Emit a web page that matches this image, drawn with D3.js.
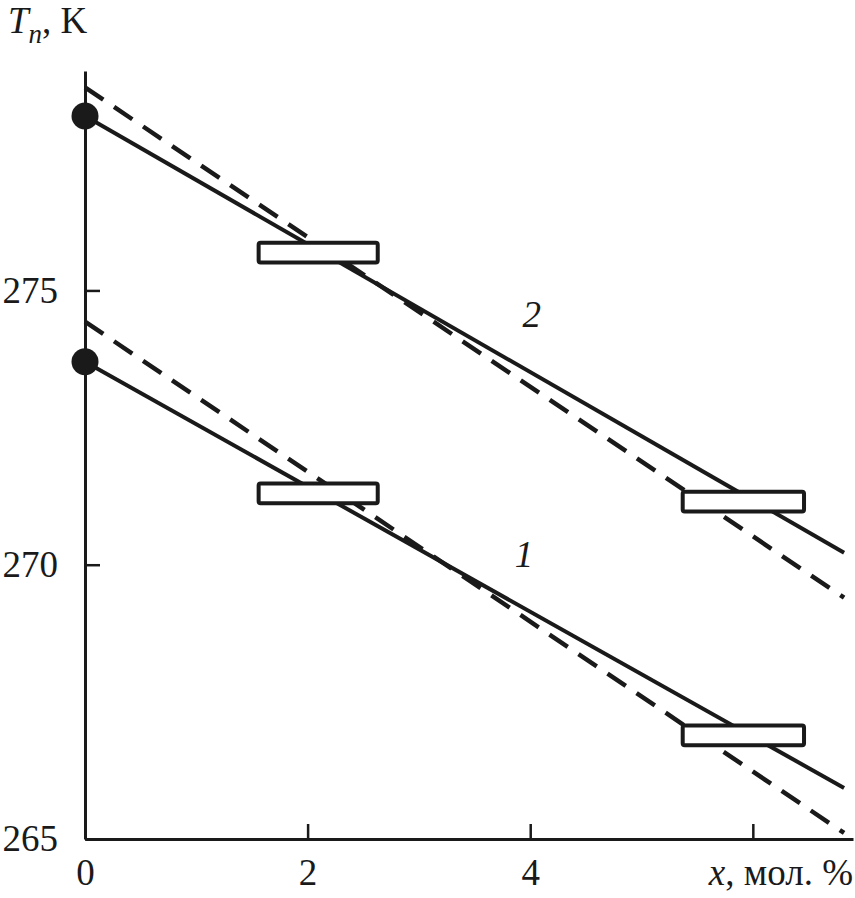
<!DOCTYPE html>
<html>
<head>
<meta charset="utf-8">
<script src="https://cdn.jsdelivr.net/npm/d3@7"></script>
<style>
html,body{margin:0;padding:0;background:#fff;}
svg{display:block;}
svg text{font-family:"Liberation Serif","Times New Roman",serif;}
</style>
</head>
<body>
<svg id="chart" width="855" height="898"></svg>
<script>
// ---- data ----
const xTicks = [0, 2, 4, 6];
const xTickLabels = ["0", "2", "4", ""];
const yTicks = [265, 270, 275];
const yTickLabels = ["265", "270", "275"];
const seriesNames = ["1", "2"];
const lineX = [0, 6.82];
const solid1 = [273.70, 265.93];
const dashed1 = [274.43, 265.11];
const solid2 = [278.18, 270.22];
const dashed2 = [278.70, 269.40];
const dotX = [0, 0];
const dotY = [273.70, 278.18];
const boxX0 = [1.56, 5.37];
const boxX1 = [2.63, 6.46];
const box1Y = [271.30, 266.89];
const box2Y = [275.69, 271.15];
const boxHalf = 0.18;
const labelX = [3.86, 3.93];
const labelY = [269.96, 274.34];

// ---- scales ----
const svg = d3.select("#chart");
const x = d3.scaleLinear().domain([0, 6.9]).range([85, 853]);
const y = d3.scaleLinear().domain([265, 279]).range([839, 71]);
const serif = "Liberation Serif";

// ---- axes ----
const xAxis = d3.axisBottom(x).tickValues(xTicks)
  .tickFormat((d, i) => xTickLabels[i]).tickSize(-15).tickSizeOuter(0).tickPadding(20);
const gx = svg.append("g").attr("transform", `translate(0,${y(265)})`).call(xAxis);
const yAxis = d3.axisLeft(y).tickValues(yTicks)
  .tickFormat((d, i) => yTickLabels[i]).tickSize(-15).tickSizeOuter(0).tickPadding(27);
const gy = svg.append("g").attr("transform", `translate(${x(0)},0)`).call(yAxis);
[gx, gy].forEach(g => {
  g.attr("font-family", serif).attr("font-size", 37);
  g.selectAll("path.domain").attr("stroke", "#1a1a1a").attr("stroke-width", 3);
  g.selectAll(".tick line").attr("stroke", "#1a1a1a").attr("stroke-width", 2.5);
  g.selectAll(".tick text").attr("fill", "#1a1a1a").style("font-family", serif);
});

// ---- lines ----
const line = d3.line().x(d => x(d[0])).y(d => y(d[1]));
const mk = arr => lineX.map((v, i) => [v, arr[i]]);
[[solid1, false], [solid2, false], [dashed1, true], [dashed2, true]].forEach(([arr, dashed]) => {
  svg.append("path").datum(mk(arr)).attr("d", line)
    .attr("fill", "none").attr("stroke", "#1a1a1a")
    .attr("stroke-width", dashed ? 4.5 : 4)
    .attr("stroke-dasharray", dashed ? "22 13" : null);
});

// ---- boxes ----
[box1Y, box2Y].forEach(ys => {
  ys.forEach((v, i) => {
    svg.append("rect")
      .attr("x", x(boxX0[i])).attr("width", x(boxX1[i]) - x(boxX0[i]))
      .attr("y", y(v + boxHalf)).attr("height", y(v - boxHalf) - y(v + boxHalf))
      .attr("rx", 2).attr("fill", "#fff").attr("stroke", "#1a1a1a").attr("stroke-width", 4);
  });
});

// ---- dots ----
dotY.forEach((v, i) => {
  svg.append("circle").attr("cx", x(dotX[i])).attr("cy", y(v)).attr("r", 13.5).attr("fill", "#1a1a1a");
});

// ---- series labels ----
seriesNames.forEach((n, i) => {
  svg.append("text").attr("x", x(labelX[i])).attr("y", y(labelY[i]))
    .style("font-family", serif).attr("font-style", "italic").attr("font-size", 37)
    .attr("fill", "#1a1a1a").text(n);
});

// ---- axis titles ----
const t = svg.append("text").attr("x", 8).attr("y", 33)
  .style("font-family", serif).attr("font-size", 37).attr("fill", "#1a1a1a");
t.append("tspan").attr("font-style", "italic").text("T");
t.append("tspan").attr("font-style", "italic").attr("font-size", 27).attr("dy", 10).text("n");
t.append("tspan").attr("dy", -10).text(", K");

const xt = svg.append("text").attr("x", 853).attr("y", 885).attr("text-anchor", "end")
  .style("font-family", serif).attr("font-size", 37).attr("fill", "#1a1a1a");
xt.append("tspan").attr("font-style", "italic").text("x");
xt.append("tspan").text(", мол. %");
</script>
</body>
</html>
